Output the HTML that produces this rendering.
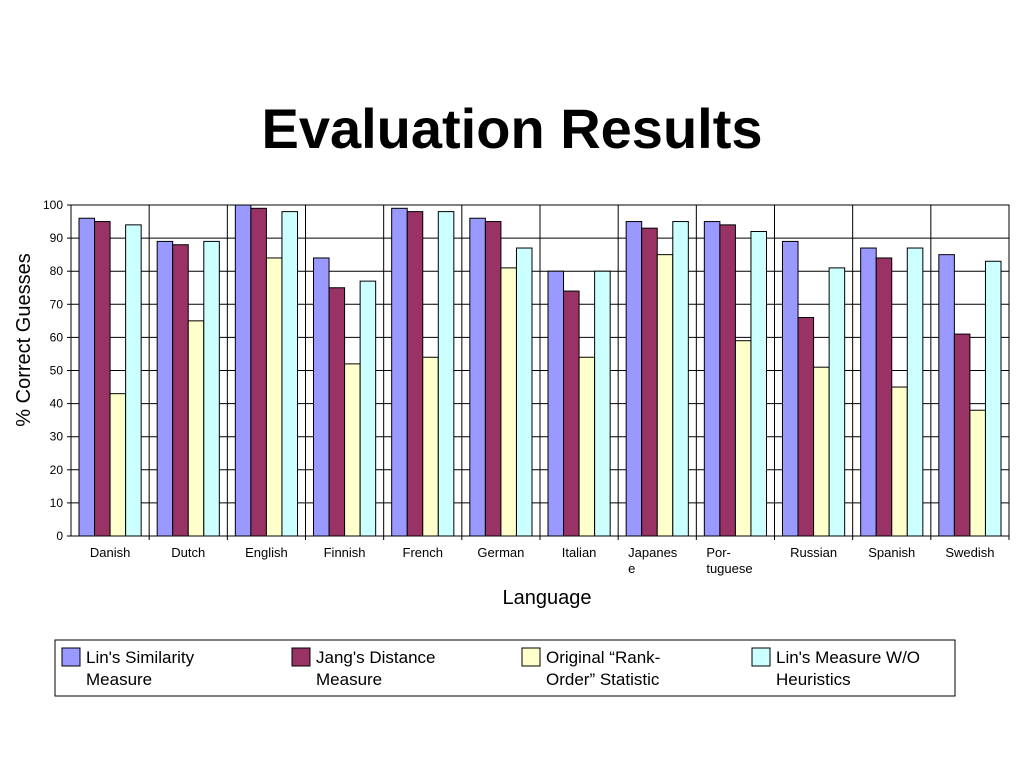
<!DOCTYPE html>
<html><head><meta charset="utf-8"><style>
body{margin:0;background:#fff;}
svg{display:block;font-family:"Liberation Sans",sans-serif;}
</style></head><body>
<svg width="1023" height="767" viewBox="0 0 1023 767">
<text x="512" y="148" text-anchor="middle" font-size="56" font-weight="bold">Evaluation Results</text>
<g id="grid"></g>
<g id="bars"></g>
<g id="axes"></g>
<text transform="translate(30,340) rotate(-90)" text-anchor="middle" font-size="20">% Correct Guesses</text>
<text x="547" y="604" text-anchor="middle" font-size="20">Language</text>
<g>
<rect x="55" y="640" width="900" height="56" fill="#fff" stroke="#000" stroke-width="1"/>
<g id="legend"></g>
</g>
<script>
const categories=["Danish","Dutch","English","Finnish","French","German","Italian","Japanes\ne","Por-\ntuguese","Russian","Spanish","Swedish"];
const linSim=[96,89,100,84,99,96,80,95,95,89,87,85];
const jang=[95,88,99,75,98,95,74,93,94,66,84,61];
const rankOrder=[43,65,84,52,54,81,54,85,59,51,45,38];
const linWO=[94,89,98,77,98,87,80,95,92,81,87,83];
const yTicks=[0,10,20,30,40,50,60,70,80,90,100];
const seriesNames=[["Lin's Similarity","Measure"],["Jang's Distance","Measure"],["Original “Rank-","Order” Statistic"],["Lin's Measure W/O","Heuristics"]];
const series=[linSim,jang,rankOrder,linWO];
const colors=["#9999ff","#993366","#ffffcc","#ccffff"];
const NS="http://www.w3.org/2000/svg";
const X0=71,X1=1009,Y0=536,Y1=205;
const gw=(X1-X0)/categories.length;
function y(v){return Y0-(v/100)*(Y0-Y1);}
function mk(t,a,p){const e=document.createElementNS(NS,t);for(const k in a)e.setAttribute(k,a[k]);p.appendChild(e);return e;}
const grid=document.getElementById('grid'),bars=document.getElementById('bars'),axes=document.getElementById('axes'),leg=document.getElementById('legend');
yTicks.forEach(v=>{
 const l=mk('line',{x1:X0,x2:X1,y1:y(v),y2:y(v),stroke:'#000','stroke-width':1},grid);
 
 
 const t=mk('text',{x:X0-8,y:y(v)+4,'text-anchor':'end','font-size':12},axes);
 t.textContent=v;
 
 
 mk('line',{x1:X0-4,x2:X0,y1:y(v),y2:y(v),stroke:'#000'},axes);
});
categories.forEach((c,i)=>{
 const gx=X0+i*gw;
 const sep=mk('line',{x1:gx+gw,x2:gx+gw,y1:Y1,y2:Y0+4,stroke:'#000'},grid);
 
 
 const bw=(gw-16)/4;
 series.forEach((s,j)=>{
  const r=mk('rect',{x:gx+8+j*bw,y:y(s[i]),width:bw,height:Y0-y(s[i]),fill:colors[j],stroke:'#000','stroke-width':1},bars);
  
  
 });
 const lines=c.split('\n');
 const t=mk('text',{x:lines.length>1?gx+10:gx+gw/2,y:557,'text-anchor':lines.length>1?'start':'middle','font-size':13},axes);
 
 
 lines.forEach((ln,k)=>{const ts=mk('tspan',{x:lines.length>1?gx+10:gx+gw/2,dy:k?16:0},t);ts.textContent=ln;});
});
mk('rect',{x:X0,y:Y1,width:X1-X0,height:Y0-Y1,fill:'none',stroke:'#000'},axes);
seriesNames.forEach((n,j)=>{
 const lx=62+j*230;
 const r=mk('rect',{x:lx,y:648,width:18,height:18,fill:colors[j],stroke:'#000'},leg);
 
 
 const t=mk('text',{x:lx+24,y:663,'font-size':17},leg);
 
 
 n.forEach((ln,k)=>{const ts=mk('tspan',{x:lx+24,dy:k?22:0},t);ts.textContent=ln;});
});
</script>
</svg>
</body></html>
